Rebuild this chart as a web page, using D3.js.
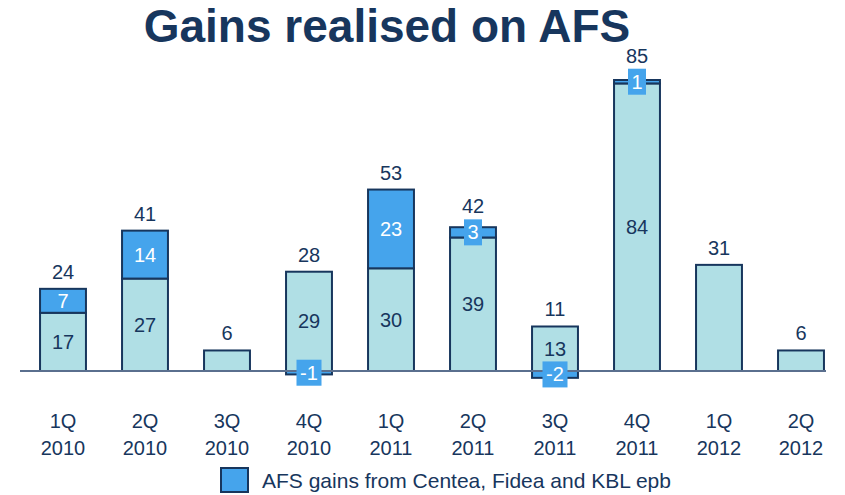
<!DOCTYPE html>
<html>
<head>
<meta charset="utf-8">
<script src="https://cdnjs.cloudflare.com/ajax/libs/d3/7.8.5/d3.min.js"></script>
<style>
  body { margin: 0; background: #fff; }
  text { font-family: "Liberation Sans", Arial, sans-serif; }
</style>
</head>
<body>
<div id="chart"></div>
<script>
const quarters = ["1Q", "2Q", "3Q", "4Q", "1Q", "2Q", "3Q", "4Q", "1Q", "2Q"];
const years = ["2010", "2010", "2010", "2010", "2011", "2011", "2011", "2011", "2012", "2012"];
const baseGains = [17, 27, 6, 29, 30, 39, 13, 84, 31, 6];
const afsGains = [7, 14, 0, -1, 23, 3, -2, 1, 0, 0];
const totals = [24, 41, 6, 28, 53, 42, 11, 85, 31, 6];

const navy = "#17365d";
const light = "#b0dfe5";
const blue = "#45a4ec";

const svg = d3.select("#chart").append("svg")
    .attr("width", 845)
    .attr("height", 495);

const data = quarters.map((q, i) => ({
    key: q + " " + years[i],
    q: q, year: years[i],
    base: baseGains[i], afs: afsGains[i], total: totals[i]
}));

const x = d3.scaleBand()
    .domain(data.map(d => d.key))
    .range([22, 842])
    .paddingInner(0.44)
    .paddingOuter(0.22);

const y = d3.scaleLinear()
    .domain([0, 85])
    .range([371, 80]);

// Title
svg.append("text")
    .attr("x", 387)
    .attr("y", 42)
    .attr("text-anchor", "middle")
    .style("font-size", "46px")
    .style("font-weight", "bold")
    .style("fill", navy)
    .text("Gains realised on AFS");

// Base bars
svg.selectAll(".base")
    .data(data)
    .enter()
    .append("rect")
    .attr("class", "base")
    .attr("x", d => x(d.key))
    .attr("width", x.bandwidth())
    .attr("y", d => y(d.base))
    .attr("height", d => y(0) - y(d.base))
    .style("fill", light)
    .style("stroke", navy)
    .style("stroke-width", 2);

// AFS segments (stacked above base if positive, below zero if negative)
const afsData = data.filter(d => d.afs !== 0);
const segTop = d => d.afs > 0 ? y(d.base + d.afs) : y(0);
const segBot = d => d.afs > 0 ? y(d.base) : y(d.afs);

svg.selectAll(".afs")
    .data(afsData)
    .enter()
    .append("rect")
    .attr("class", "afs")
    .attr("x", d => x(d.key))
    .attr("width", x.bandwidth())
    .attr("y", segTop)
    .attr("height", d => segBot(d) - segTop(d))
    .style("fill", blue)
    .style("stroke", navy)
    .style("stroke-width", 2);

// Axis line
svg.append("line")
    .attr("x1", 20)
    .attr("x2", 826)
    .attr("y1", y(0))
    .attr("y2", y(0))
    .style("stroke", "#5a6f8e")
    .style("stroke-width", 2);

// Inner base labels (only where an AFS part exists)
svg.selectAll(".baseLabel")
    .data(afsData)
    .enter()
    .append("text")
    .attr("x", d => x(d.key) + x.bandwidth() / 2)
    .attr("y", d => (y(0) + y(d.base)) / 2 + 7)
    .attr("text-anchor", "middle")
    .style("font-size", "20px")
    .style("fill", navy)
    .text(d => d.base);

// AFS labels, boxed when the segment is too thin
const small = d => segBot(d) - segTop(d) < 18;
const afsLabels = svg.selectAll(".afsLabel")
    .data(afsData)
    .enter()
    .append("g")
    .attr("transform", d => `translate(${x(d.key) + x.bandwidth() / 2},${(segTop(d) + segBot(d)) / 2})`);

afsLabels.filter(small)
    .append("rect")
    .attr("x", d => d.afs < 0 ? -12.5 : -9)
    .attr("width", d => d.afs < 0 ? 25 : 18)
    .attr("y", -13)
    .attr("height", 26)
    .style("fill", blue);

afsLabels.append("text")
    .attr("y", 7)
    .attr("text-anchor", "middle")
    .style("font-size", "20px")
    .style("fill", "#fff")
    .text(d => d.afs);

// Total labels
svg.selectAll(".totalLabel")
    .data(data)
    .enter()
    .append("text")
    .attr("x", d => x(d.key) + x.bandwidth() / 2)
    .attr("y", d => {
        const top = d.afs > 0 ? y(d.base + d.afs) : y(d.base);
        const boxTop = d.afs > 0 && small(d) ? (segTop(d) + segBot(d)) / 2 - 13 : top;
        return Math.min(top - 10, boxTop - 6);
    })
    .attr("text-anchor", "middle")
    .style("font-size", "20px")
    .style("fill", navy)
    .text(d => d.total);

// Category labels
const cats = svg.selectAll(".cat")
    .data(data)
    .enter()
    .append("text")
    .attr("x", d => x(d.key) + x.bandwidth() / 2)
    .attr("text-anchor", "middle")
    .style("font-size", "20px")
    .style("fill", navy);
cats.append("tspan")
    .attr("x", d => x(d.key) + x.bandwidth() / 2)
    .attr("y", 428)
    .text(d => d.q);
cats.append("tspan")
    .attr("x", d => x(d.key) + x.bandwidth() / 2)
    .attr("y", 455)
    .text(d => d.year);

// Legend
svg.append("rect")
    .attr("x", 221)
    .attr("y", 468)
    .attr("width", 27)
    .attr("height", 24)
    .style("fill", blue)
    .style("stroke", navy)
    .style("stroke-width", 2);
svg.append("text")
    .attr("x", 262)
    .attr("y", 488)
    .style("font-size", "21px")
    .style("fill", navy)
    .text("AFS gains from Centea, Fidea and KBL epb");
</script>
</body>
</html>
